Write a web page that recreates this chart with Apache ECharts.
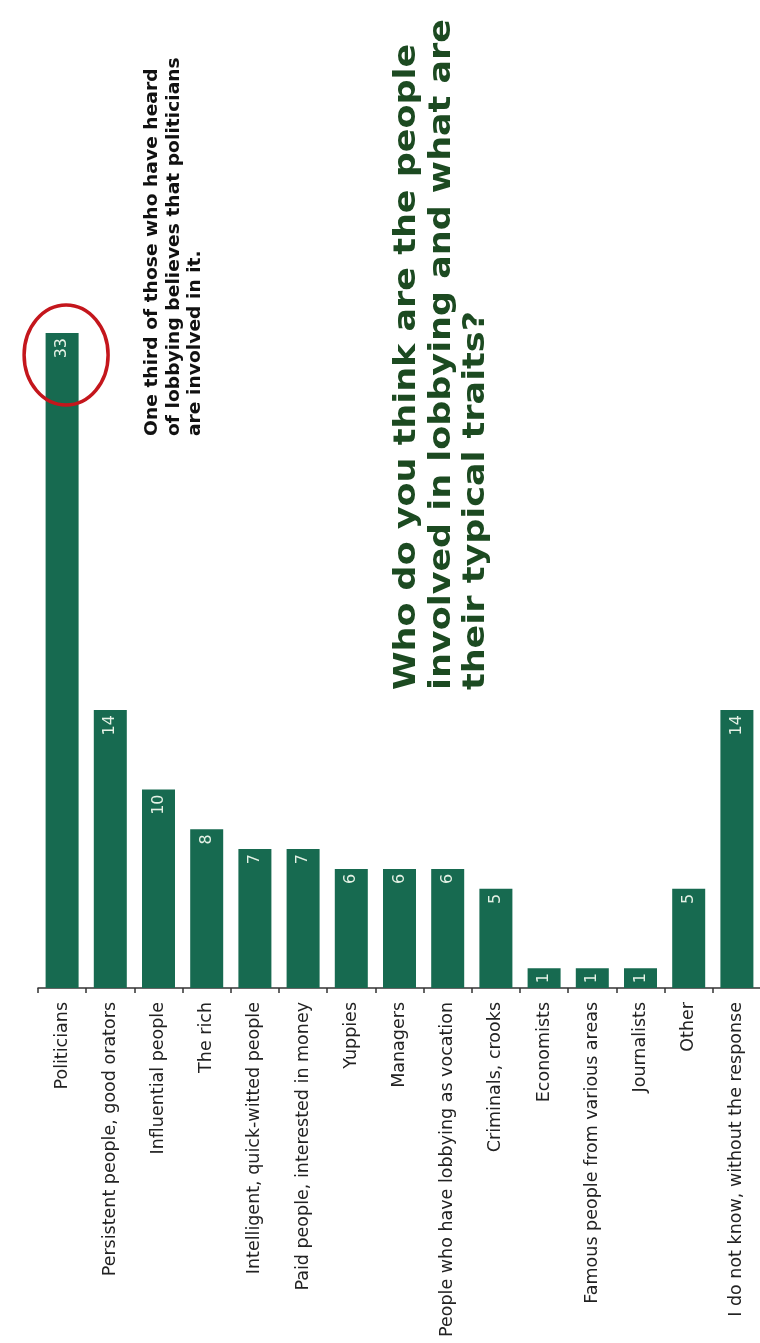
<!DOCTYPE html>
<html>
<head>
<meta charset="utf-8">
<script src="https://cdn.jsdelivr.net/npm/echarts@6/dist/echarts.min.js"></script>
<style>
  html, body { margin: 0; padding: 0; background: #ffffff; }
  #chart { width: 760px; height: 1343px; }
</style>
</head>
<body>
<div id="chart"></div>
<script>
// Survey answers: who is involved in lobbying (share of respondents, %)
const categories = [
  'Politicians',
  'Persistent people, good orators',
  'Influential people',
  'The rich',
  'Intelligent, quick-witted people',
  'Paid people, interested in money',
  'Yuppies',
  'Managers',
  'People who have lobbying as vocation',
  'Criminals, crooks',
  'Economists',
  'Famous people from various areas',
  'Journalists',
  'Other',
  'I do not know, without the response'
];
const shares = [33, 14, 10, 8, 7, 7, 6, 6, 6, 5, 1, 1, 1, 5, 14];

const titleLines = [
  'Who do you think are the people',
  'involved in lobbying and what are',
  'their typical traits?'
];
const noteLines = [
  'One third of those who have heard',
  'of lobbying believes that politicians',
  'are involved in it.'
];

const BAR_GREEN = '#176a50';

const chart = echarts.init(document.getElementById('chart'), null, { renderer: 'canvas' });

chart.setOption({
  animation: false,
  backgroundColor: '#ffffff',
  grid: {
    left: 38,
    width: 723,
    top: 333,
    bottom: 355,
    containLabel: false,
    outerBoundsMode: 'none'
  },
  xAxis: {
    type: 'category',
    data: categories,
    boundaryGap: true,
    axisLine: { show: true, lineStyle: { color: '#333333', width: 1.5 } },
    axisTick: { show: true, length: 5, lineStyle: { color: '#333333', width: 1.5 } },
    axisLabel: {
      interval: 0,
      rotate: 90,
      margin: 14,
      color: '#222222',
      fontFamily: '"DejaVu Sans", Verdana, sans-serif',
      fontSize: 17.5
    },
    splitLine: { show: false }
  },
  yAxis: {
    type: 'value',
    min: 0,
    max: 33,
    show: false,
    splitLine: { show: false }
  },
  series: [{
    type: 'bar',
    data: shares,
    barWidth: 33,
    itemStyle: { color: BAR_GREEN },
    label: {
      show: true,
      position: 'insideTop',
      rotate: 90,
      align: 'right',
      verticalAlign: 'middle',
      distance: 5,
      color: '#e6f2e6',
      fontFamily: '"DejaVu Sans", Verdana, sans-serif',
      fontSize: 16
    }
  }]
});

// Annotation layer: rotated title, note, and the ring around the leading bar
const top0 = chart.convertToPixel({ seriesIndex: 0 }, [0, shares[0]]);

chart.setOption({
  graphic: [
    {
      type: 'ellipse',
      shape: { cx: top0[0] + 4, cy: top0[1] + 22, rx: 42, ry: 50 },
      style: { fill: null, stroke: '#c4161c', lineWidth: 3.5 },
      z: 10
    },
    {
      type: 'text',
      x: 142,
      y: 436,
      rotation: Math.PI / 2,
      scaleX: 1.1,
      style: {
        text: noteLines.join('\n'),
        fill: '#111111',
        font: 'bold 17px "DejaVu Sans", Verdana, sans-serif',
        lineHeight: 21.5,
        align: 'left',
        verticalAlign: 'top'
      },
      z: 10
    },
    {
      type: 'text',
      x: 390,
      y: 690,
      rotation: Math.PI / 2,
      scaleX: 1.165,
      style: {
        text: titleLines.join('\n'),
        fill: '#1c4a21',
        font: 'bold 30px "DejaVu Sans", Verdana, sans-serif',
        lineHeight: 34.5,
        align: 'left',
        verticalAlign: 'top'
      },
      z: 10
    }
  ]
});
</script>
</body>
</html>
